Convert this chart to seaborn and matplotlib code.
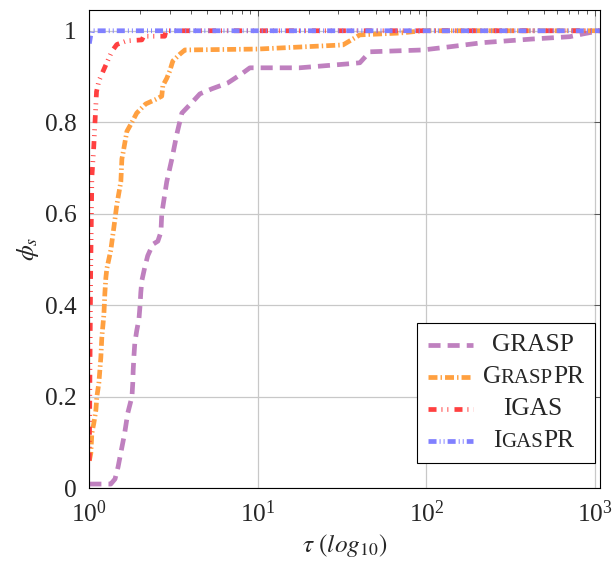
import matplotlib
matplotlib.use("Agg")
import pandas as pd
import matplotlib.pyplot as plt
import seaborn as sns
from matplotlib.lines import Line2D
from matplotlib.ticker import LogLocator, NullFormatter, NullLocator
from matplotlib.offsetbox import AnchoredOffsetbox, DrawingArea, HPacker, VPacker, TextArea

# ─────────────────────────────────────────────────────
# DONNÉES (profil de performance)
# ─────────────────────────────────────────────────────

SOLVERS = ["GRASP", "GraspPR", "IGAS", "IgasPR"]

TAU_GRASP = [1.0, 1.34, 1.42, 1.48, 1.52, 1.62, 1.69, 1.79, 1.81, 1.82, 1.84, 1.86, 1.91,
             1.97, 2.0, 2.02, 2.05, 2.13, 2.22, 2.38, 2.55, 2.66, 2.69, 2.88, 3.09, 3.31,
             3.54, 4.06, 4.53, 5.33, 6.64, 8.03, 8.97, 17.7, 35.2, 40.3, 46.2, 95.3, 138,
             216, 428, 711, 849, 1070]
PHI_GRASP = [0.009, 0.009, 0.02, 0.046, 0.068, 0.12, 0.164, 0.2, 0.23, 0.257, 0.29, 0.316,
             0.344, 0.37, 0.4, 0.428, 0.454, 0.482, 0.508, 0.533, 0.54, 0.56, 0.6, 0.67,
             0.72, 0.775, 0.82, 0.843, 0.862, 0.873, 0.886, 0.906, 0.919, 0.919, 0.928,
             0.93, 0.954, 0.958, 0.965, 0.974, 0.982, 0.987, 0.993, 1.0]

TAU_GRASPPR = [1.0, 1.02, 1.035, 1.063, 1.093, 1.108, 1.139, 1.17, 1.186, 1.22, 1.236,
               1.253, 1.27, 1.34, 1.398, 1.456, 1.538, 1.56, 1.58, 1.67, 1.79, 1.91, 2.16,
               2.48, 2.69, 2.73, 2.88, 3.0, 3.13, 3.45, 3.69, 10.0, 32.0, 40.3, 69.5, 95.0,
               1070]
PHI_GRASPPR = [0.06, 0.076, 0.12, 0.142, 0.17, 0.2, 0.23, 0.286, 0.33, 0.38, 0.426, 0.46,
               0.48, 0.52, 0.57, 0.62, 0.67, 0.72, 0.73, 0.78, 0.80, 0.82, 0.84, 0.85,
               0.857, 0.88, 0.896, 0.912, 0.934, 0.949, 0.958, 0.96, 0.969, 0.991, 0.995,
               1.0, 1.0]

TAU_IGAS = [1.0, 1.008, 1.018, 1.035, 1.06, 1.08, 1.103, 1.138, 1.218, 1.36, 1.456, 1.67,
            2.05, 2.1, 2.8, 2.85, 1070]
PHI_IGAS = [0.06, 0.25, 0.47, 0.68, 0.74, 0.8, 0.867, 0.89, 0.915, 0.955, 0.97, 0.978,
            0.98, 0.988, 0.988, 1.0, 1.0]

TAU_IGASPR = [1.0, 1.03, 1070]
PHI_IGASPR = [0.972, 1.0, 1.0]

Y_TICKS = [0, 0.2, 0.4, 0.6, 0.8, 1]
Y_TICK_LABELS = ["0", "0.2", "0.4", "0.6", "0.8", "1"]

# libellés de légende en petites capitales : (texte, petit ?)
LEGEND_PARTS = [
    [("GRASP", False)],
    [("G", False), ("RASP", True), ("PR", False)],
    [("IGAS", False)],
    [("I", False), ("GAS", True), ("PR", False)],
]

# ─────────────────────────────────────────────────────
# STYLE
# ─────────────────────────────────────────────────────

COLORS = {"GRASP": "#BF80BF", "GraspPR": "#FFA040", "IGAS": "#FF4040", "IgasPR": "#8080FF"}
DASHES = {
    "GRASP": (2.55, 1.5),
    "GraspPR": (1.9, 0.65, 0.3, 0.65),
    "IGAS": (1.7, 1.05, 0.2, 1.05, 0.2, 1.3),
    "IgasPR": (1.7, 0.65, 0.2, 0.65, 0.2, 0.65),
}
LW = 3.4
FS = 18.3
FS_SMALL = 15

sns.set_style("white")
plt.rcParams["font.family"] = ["Liberation Serif", "DejaVu Serif"]
plt.rcParams["mathtext.fontset"] = "stix"

fig = plt.figure(figsize=(6.12, 5.65), dpi=100)
ax = fig.add_axes([0.146, 0.136, 0.834, 0.846])
ax.set_xscale("log")

frames = [
    pd.DataFrame({"tau": TAU_GRASP, "phi": PHI_GRASP, "solver": "GRASP"}),
    pd.DataFrame({"tau": TAU_GRASPPR, "phi": PHI_GRASPPR, "solver": "GraspPR"}),
    pd.DataFrame({"tau": TAU_IGAS, "phi": PHI_IGAS, "solver": "IGAS"}),
    pd.DataFrame({"tau": TAU_IGASPR, "phi": PHI_IGASPR, "solver": "IgasPR"}),
]
df = pd.concat(frames, ignore_index=True)

sns.lineplot(data=df, x="tau", y="phi", hue="solver", style="solver",
             hue_order=SOLVERS, style_order=SOLVERS, palette=COLORS, dashes=DASHES,
             estimator=None, sort=False, linewidth=LW, dash_capstyle="butt",
             legend=False, ax=ax)

# ── axes ──────────────────────────────────────────
ax.set_xlim(1, 1070)
ax.set_ylim(0, 1.045)
ax.set_yticks(Y_TICKS)
ax.set_yticklabels(Y_TICK_LABELS)
ax.yaxis.set_minor_locator(NullLocator())
ax.xaxis.set_major_locator(LogLocator(base=10))
ax.xaxis.set_minor_locator(LogLocator(base=10, subs=range(2, 10)))
ax.xaxis.set_minor_formatter(NullFormatter())

ax.grid(True, which="major", color="#c8c8c8", lw=0.9)
ax.set_axisbelow(True)
for s in ax.spines.values():
    s.set_color("black")
    s.set_linewidth(0.8)

ax.tick_params(which="both", direction="in", top=True, right=True, color="#444444",
               labelsize=FS)
ax.tick_params(which="major", length=4.3, width=0.6)
ax.tick_params(which="minor", length=2.9, width=0.6)
ax.tick_params(axis="x", pad=8.5)
ax.tick_params(axis="y", pad=9)

ax.set_xlabel(r"$\tau\ (log_{10})$", fontsize=FS, labelpad=4)
ax.set_ylabel(r"$\phi_s$", fontsize=FS, labelpad=3)

# ── légende (petites capitales) ───────────────────
label_boxes = []
for parts in LEGEND_PARTS:
    areas = [TextArea(t, textprops=dict(size=FS_SMALL if small else FS)) for t, small in parts]
    box = HPacker(children=areas, align="baseline", pad=0, sep=0)
    box.set_figure(fig)
    label_boxes.append(box)

renderer = fig.canvas.get_renderer()
h_lab = label_boxes[0].get_bbox(renderer).height * 72 / fig.dpi
row_sep = max(23 - h_lab, 1)

handles = []
for name in SOLVERS:
    da = DrawingArea(32.4, h_lab, 0, 0)
    da.add_artist(Line2D([0, 32.4], [h_lab / 2, h_lab / 2], color=COLORS[name], lw=LW,
                         linestyle=(0, DASHES[name]), dash_capstyle="butt"))
    handles.append(da)

col_handles = VPacker(children=handles, align="left", pad=0, sep=row_sep)
col_labels = VPacker(children=label_boxes, align="center", pad=0, sep=row_sep)
content = HPacker(children=[col_handles, col_labels], align="top", pad=0, sep=6.5)

leg = AnchoredOffsetbox(loc="lower right", child=content, pad=0.8, borderpad=0,
                        prop=dict(size=10), frameon=True,
                        bbox_to_anchor=(595 / 612, 102 / 565),
                        bbox_transform=fig.transFigure)
leg.patch.set_edgecolor("black")
leg.patch.set_linewidth(0.8)
leg.patch.set_facecolor("white")
leg.set_zorder(5)
ax.add_artist(leg)

plt.savefig("out.png", dpi=100)
